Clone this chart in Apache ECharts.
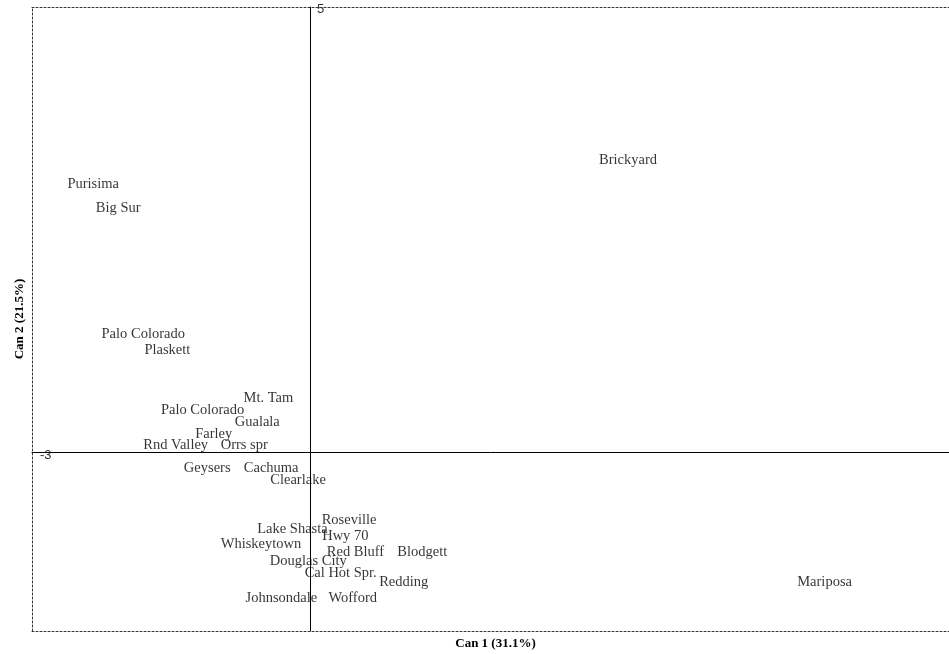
<!DOCTYPE html>
<html>
<head>
<meta charset="utf-8">
<script src="https://cdn.jsdelivr.net/npm/echarts@6/dist/echarts.min.js"></script>
<style>
html,body{margin:0;padding:0;background:#fff;}
#chart{width:949px;height:654px;}
</style>
</head>
<body>
<div id="chart"></div>
<script>
const sites = ["Brickyard","Purisima","Big Sur","Palo Colorado","Plaskett","Mt. Tam","Palo Colorado","Gualala","Farley","Rnd Valley","Orrs spr","Geysers","Cachuma","Clearlake","Roseville","Lake Shasta","Hwy 70","Whiskeytown","Red Bluff","Blodgett","Douglas City","Cal Hot Spr.","Redding","Johnsondale","Wofford","Mariposa"];
const can1 = [3.43,-2.34,-2.07,-1.80,-1.54,-0.45,-1.16,-0.57,-1.04,-1.45,-0.71,-1.11,-0.42,-0.13,0.42,-0.19,0.38,-0.53,0.49,1.21,-0.02,0.33,1.01,-0.31,0.46,5.55];
const can2 = [3.30,3.03,2.76,1.35,1.17,0.63,0.50,0.36,0.23,0.11,0.11,-0.15,-0.15,-0.29,-0.74,-0.83,-0.91,-1.00,-1.09,-1.09,-1.19,-1.33,-1.43,-1.61,-1.61,-1.43];
const xRange = [-3, 7];
const yRange = [-2, 5];
const xTitle = "Can 1 (31.1%)";
const yTitle = "Can 2 (21.5%)";

const points = sites.map((s, i) => ({ name: s, value: [can1[i], can2[i]] }));
const chart = echarts.init(document.getElementById('chart'), null, { renderer: 'canvas' });
const serif = "'Liberation Serif', 'Times New Roman', serif";
const tickFont = { fontFamily: "'Liberation Sans', Arial, sans-serif", fontSize: 13, color: '#333' };
const hidden = { show: false };
const dotted = { show: true, onZero: false, lineStyle: { color: '#333', width: 1, type: [2, 2] } };

const G = { left: 32, top: 7, width: 927, height: 624 };
// offsets that put the solid reference axes on the zero of the other axis
const yAxisShift = -(0 - xRange[0]) / (xRange[1] - xRange[0]) * G.width;
const xAxisShift = -(0 - yRange[0]) / (yRange[1] - yRange[0]) * G.height;

chart.setOption({
  animation: false,
  grid: { left: G.left, top: G.top, width: G.width, height: G.height, show: false, outerBoundsMode: 'none', containLabel: false },
  xAxis: [
    {
      type: 'value', min: xRange[0], max: xRange[1], interval: 1, position: 'bottom', offset: xAxisShift,
      axisLine: { show: true, onZero: false, lineStyle: { color: '#000', width: 1 } },
      axisTick: hidden, splitLine: hidden,
      axisLabel: {
        show: true, showMinLabel: true, showMaxLabel: false,
        formatter: v => (v === xRange[0] ? String(v) : ''),
        align: 'left', verticalAlign: 'middle', margin: 3, padding: [0, 0, 0, 8], ...tickFont
      }
    },
    {
      type: 'value', min: xRange[0], max: xRange[1], position: 'bottom',
      axisLine: dotted, axisTick: hidden, splitLine: hidden, axisLabel: hidden,
      name: xTitle, nameLocation: 'middle', nameGap: 6,
      nameTextStyle: { fontFamily: serif, fontSize: 13, fontWeight: 'bold', color: '#000' }
    },
    {
      type: 'value', min: xRange[0], max: xRange[1], position: 'top',
      axisLine: dotted, axisTick: hidden, splitLine: hidden, axisLabel: hidden
    }
  ],
  yAxis: [
    {
      type: 'value', min: yRange[0], max: yRange[1], interval: 1, position: 'left', offset: yAxisShift,
      axisLine: { show: true, onZero: false, lineStyle: { color: '#000', width: 1 } },
      axisTick: hidden, splitLine: hidden,
      axisLabel: {
        show: true, inside: true, showMaxLabel: true, showMinLabel: false,
        formatter: v => (v === yRange[1] ? String(v) : ''),
        align: 'left', verticalAlign: 'top', lineHeight: 5, margin: 7, ...tickFont
      }
    },
    {
      type: 'value', min: yRange[0], max: yRange[1], position: 'left',
      axisLine: dotted, axisTick: hidden, splitLine: hidden, axisLabel: hidden,
      name: yTitle, nameLocation: 'middle', nameGap: 6, nameRotate: 90,
      nameTextStyle: { fontFamily: serif, fontSize: 13, fontWeight: 'bold', color: '#000' }
    }
  ],
  series: [{
    type: 'scatter', xAxisIndex: 0, yAxisIndex: 0,
    data: points,
    symbolSize: 1,
    itemStyle: { color: 'rgba(0,0,0,0)' },
    label: {
      show: true, position: 'inside', offset: [0, 2], formatter: p => p.name,
      fontFamily: serif, fontSize: 14.5, color: '#000'
    },
    emphasis: { disabled: true }
  }]
});
</script>
</body>
</html>
